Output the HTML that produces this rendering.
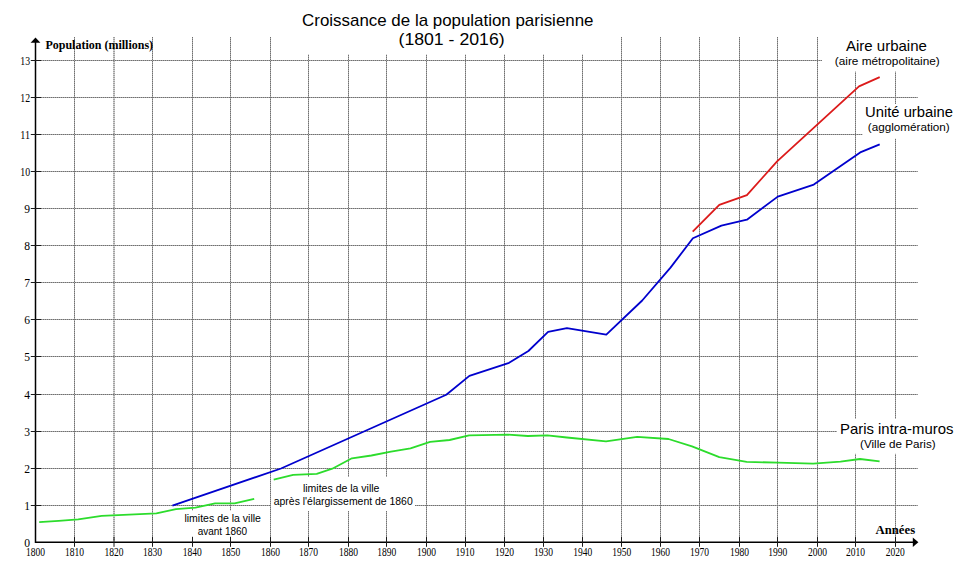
<!DOCTYPE html>
<html lang="fr"><head><meta charset="utf-8"><title>Croissance de la population parisienne</title>
<style>html,body{margin:0;padding:0;background:#fff;width:960px;height:573px;overflow:hidden}svg{display:block}.t{font-family:"Liberation Sans",Arial,sans-serif;fill:#000}.s{font-family:"Liberation Serif","Times New Roman",serif;fill:#000}</style></head><body>
<svg width="960" height="573" viewBox="0 0 960 573">
<rect width="960" height="573" fill="#fff"/>
<path d="M74.5 37V541 M114.0 37V541 M152.5 37V541 M192.5 37V541 M230.5 37V541 M270.5 37V541 M308.5 37V541 M348.5 37V541 M386.5 37V541 M426.5 37V541 M465.5 37V541 M504.5 37V541 M543.5 37V541 M582.5 37V541 M621.5 37V541 M660.5 37V541 M699.5 37V541 M739.5 37V541 M777.5 37V541 M817.5 37V541 M855.5 37V541 M895.5 37V541 M37 505.5H917.6 M37 468.5H917.6 M37 431.5H917.6 M37 394.5H917.6 M37 356.5H917.6 M37 319.5H917.6 M37 282.5H917.6 M37 245.5H917.6 M37 208.5H917.6 M37 171.5H917.6 M37 134.5H917.6 M37 97.5H917.6 M37 60.5H917.6" stroke="#a8a8a8" stroke-width="1" fill="none"/>
<path d="M74.5 37V541 M114.0 37V541 M152.5 37V541 M192.5 37V541 M230.5 37V541 M270.5 37V541 M308.5 37V541 M348.5 37V541 M386.5 37V541 M426.5 37V541 M465.5 37V541 M504.5 37V541 M543.5 37V541 M582.5 37V541 M621.5 37V541 M660.5 37V541 M699.5 37V541 M739.5 37V541 M777.5 37V541 M817.5 37V541 M855.5 37V541 M895.5 37V541 M37 505.5H917.6 M37 468.5H917.6 M37 431.5H917.6 M37 394.5H917.6 M37 356.5H917.6 M37 319.5H917.6 M37 282.5H917.6 M37 245.5H917.6 M37 208.5H917.6 M37 171.5H917.6 M37 134.5H917.6 M37 97.5H917.6 M37 60.5H917.6" stroke="#707070" stroke-width="1" stroke-dasharray="1 1" fill="none"/>
<rect x="285" y="0" width="322" height="54.5" fill="#fff"/>
<rect x="822" y="30" width="140" height="41.6" fill="#fff"/>
<rect x="862.5" y="104" width="97" height="34.7" fill="#fff"/>
<rect x="837" y="418.8" width="123" height="35" fill="#fff"/>
<rect x="180" y="510.5" width="90" height="30" fill="#fff"/>
<rect x="271" y="477" width="144" height="34" fill="#fff"/>
<text class="t" x="447.8" y="25.7" font-size="17" text-anchor="middle" textLength="291.4" lengthAdjust="spacingAndGlyphs">Croissance de la population parisienne</text>
<text class="t" x="451.55" y="45" font-size="17" text-anchor="middle" textLength="106.1" lengthAdjust="spacingAndGlyphs">(1801 - 2016)</text>
<path d="M35.5 41V542.2H914" stroke="#000" stroke-width="1.5" fill="none"/>
<path d="M30.6 42.8L35.5 37.6L40.4 42.8Z" fill="#000"/>
<path d="M912.8 537.6L918.4 542.3L912.8 547Z" fill="#000"/>
<path d="M30.8 505.5H41 M30.8 468.5H41 M30.8 431.5H41 M30.8 394.5H41 M30.8 356.5H41 M30.8 319.5H41 M30.8 282.5H41 M30.8 245.5H41 M30.8 208.5H41 M30.8 171.5H41 M30.8 134.5H41 M30.8 97.5H41 M30.8 60.5H41 M74.5 536.8V546.8 M114.0 536.8V546.8 M152.5 536.8V546.8 M192.5 536.8V546.8 M230.5 536.8V546.8 M270.5 536.8V546.8 M308.5 536.8V546.8 M348.5 536.8V546.8 M386.5 536.8V546.8 M426.5 536.8V546.8 M465.5 536.8V546.8 M504.5 536.8V546.8 M543.5 536.8V546.8 M582.5 536.8V546.8 M621.5 536.8V546.8 M660.5 536.8V546.8 M699.5 536.8V546.8 M739.5 536.8V546.8 M777.5 536.8V546.8 M817.5 536.8V546.8 M855.5 536.8V546.8 M895.5 536.8V546.8" stroke="#1a1a1a" stroke-width="1" fill="none"/>
<polyline points="39.2,522.1 58.7,520.9 78.2,519.3 101.7,515.9 156.4,513.3 176.0,509.1 195.5,507.7 215.1,503.3 234.6,503.4 254.2,498.9" stroke="#2cdc2c" stroke-width="1.8" fill="none" stroke-linejoin="round"/>
<polyline points="273.7,479.6 293.2,474.8 316.7,473.8 332.3,468.7 351.9,458.3 371.4,455.5 391.0,451.7 410.5,448.4 430.1,441.8 449.6,440.0 469.1,435.4 508.2,434.7 527.8,436.0 547.3,435.3 566.9,437.5 606.0,441.4 637.2,436.8 668.5,439.0 692.0,446.4 719.3,457.2 746.7,461.8 778.0,462.7 813.1,463.7 840.5,461.6 860.0,459.0 879.6,461.3" stroke="#2cdc2c" stroke-width="1.8" fill="none" stroke-linejoin="round"/>
<polyline points="172.4,505.6 281.0,468.5 446.3,394.7 469.4,375.9 509.1,362.8 528.4,351.0 548.1,331.9 566.9,328.1 606.3,334.6 642.2,300.5 670.5,267.6 692.9,238.3 721.4,225.6 746.9,219.7 777.8,196.6 813.8,184.6 860.2,152.4 879.7,144.3" stroke="#0000cd" stroke-width="1.8" fill="none" stroke-linejoin="round"/>
<polyline points="692.7,231.6 719.3,204.9 746.9,195.1 777.1,161.4 859.0,86.4 879.7,77.1" stroke="#dc1a1a" stroke-width="1.8" fill="none" stroke-linejoin="round"/>
<text class="s" x="30.1" y="509.75" font-size="11.6" text-anchor="end">1</text>
<text class="s" x="30.1" y="472.75" font-size="11.6" text-anchor="end">2</text>
<text class="s" x="30.1" y="435.75" font-size="11.6" text-anchor="end">3</text>
<text class="s" x="30.1" y="398.75" font-size="11.6" text-anchor="end">4</text>
<text class="s" x="30.1" y="360.75" font-size="11.6" text-anchor="end">5</text>
<text class="s" x="30.1" y="323.75" font-size="11.6" text-anchor="end">6</text>
<text class="s" x="30.1" y="286.75" font-size="11.6" text-anchor="end">7</text>
<text class="s" x="30.1" y="249.75" font-size="11.6" text-anchor="end">8</text>
<text class="s" x="30.1" y="212.75" font-size="11.6" text-anchor="end">9</text>
<text class="s" x="30.1" y="175.75" font-size="11.6" text-anchor="end" textLength="9.8" lengthAdjust="spacingAndGlyphs">10</text>
<text class="s" x="30.1" y="138.75" font-size="11.6" text-anchor="end" textLength="9.8" lengthAdjust="spacingAndGlyphs">11</text>
<text class="s" x="30.1" y="101.75" font-size="11.6" text-anchor="end" textLength="9.8" lengthAdjust="spacingAndGlyphs">12</text>
<text class="s" x="30.1" y="64.75" font-size="11.6" text-anchor="end" textLength="9.8" lengthAdjust="spacingAndGlyphs">13</text>
<text class="s" x="30.1" y="546.6" font-size="11.6" text-anchor="end">0</text>
<text class="s" x="35.6" y="555.9" font-size="11.6" text-anchor="middle" textLength="19" lengthAdjust="spacingAndGlyphs">1800</text>
<text class="s" x="74.4" y="555.9" font-size="11.6" text-anchor="middle" textLength="19" lengthAdjust="spacingAndGlyphs">1810</text>
<text class="s" x="114.0" y="555.9" font-size="11.6" text-anchor="middle" textLength="19" lengthAdjust="spacingAndGlyphs">1820</text>
<text class="s" x="152.5" y="555.9" font-size="11.6" text-anchor="middle" textLength="19" lengthAdjust="spacingAndGlyphs">1830</text>
<text class="s" x="192.2" y="555.9" font-size="11.6" text-anchor="middle" textLength="19" lengthAdjust="spacingAndGlyphs">1840</text>
<text class="s" x="230.7" y="555.9" font-size="11.6" text-anchor="middle" textLength="19" lengthAdjust="spacingAndGlyphs">1850</text>
<text class="s" x="270.4" y="555.9" font-size="11.6" text-anchor="middle" textLength="19" lengthAdjust="spacingAndGlyphs">1860</text>
<text class="s" x="308.6" y="555.9" font-size="11.6" text-anchor="middle" textLength="19" lengthAdjust="spacingAndGlyphs">1870</text>
<text class="s" x="348.4" y="555.9" font-size="11.6" text-anchor="middle" textLength="19" lengthAdjust="spacingAndGlyphs">1880</text>
<text class="s" x="386.8" y="555.9" font-size="11.6" text-anchor="middle" textLength="19" lengthAdjust="spacingAndGlyphs">1890</text>
<text class="s" x="426.5" y="555.9" font-size="11.6" text-anchor="middle" textLength="19" lengthAdjust="spacingAndGlyphs">1900</text>
<text class="s" x="465.0" y="555.9" font-size="11.6" text-anchor="middle" textLength="19" lengthAdjust="spacingAndGlyphs">1910</text>
<text class="s" x="504.6" y="555.9" font-size="11.6" text-anchor="middle" textLength="19" lengthAdjust="spacingAndGlyphs">1920</text>
<text class="s" x="543.4" y="555.9" font-size="11.6" text-anchor="middle" textLength="19" lengthAdjust="spacingAndGlyphs">1930</text>
<text class="s" x="582.8" y="555.9" font-size="11.6" text-anchor="middle" textLength="19" lengthAdjust="spacingAndGlyphs">1940</text>
<text class="s" x="621.7" y="555.9" font-size="11.6" text-anchor="middle" textLength="19" lengthAdjust="spacingAndGlyphs">1950</text>
<text class="s" x="660.6" y="555.9" font-size="11.6" text-anchor="middle" textLength="19" lengthAdjust="spacingAndGlyphs">1960</text>
<text class="s" x="699.5" y="555.9" font-size="11.6" text-anchor="middle" textLength="19" lengthAdjust="spacingAndGlyphs">1970</text>
<text class="s" x="739.5" y="555.9" font-size="11.6" text-anchor="middle" textLength="19" lengthAdjust="spacingAndGlyphs">1980</text>
<text class="s" x="777.7" y="555.9" font-size="11.6" text-anchor="middle" textLength="19" lengthAdjust="spacingAndGlyphs">1990</text>
<text class="s" x="817.4" y="555.9" font-size="11.6" text-anchor="middle" textLength="19" lengthAdjust="spacingAndGlyphs">2000</text>
<text class="s" x="855.6" y="555.9" font-size="11.6" text-anchor="middle" textLength="19" lengthAdjust="spacingAndGlyphs">2010</text>
<text class="s" x="895.2" y="555.9" font-size="11.6" text-anchor="middle" textLength="19" lengthAdjust="spacingAndGlyphs">2020</text>
<text class="s" x="45.4" y="49" font-size="12" font-weight="bold">Population (millions)</text>
<text class="s" x="875.5" y="533.9" font-size="12" font-weight="bold" textLength="39.6" lengthAdjust="spacingAndGlyphs">Années</text>
<text class="t" x="886.4" y="50.5" font-size="15" text-anchor="middle" textLength="81" lengthAdjust="spacingAndGlyphs">Aire urbaine</text>
<text class="t" x="887.3" y="65" font-size="11.75" text-anchor="middle" textLength="105" lengthAdjust="spacingAndGlyphs">(aire métropolitaine)</text>
<text class="t" x="909" y="117.3" font-size="14.7" text-anchor="middle" textLength="88" lengthAdjust="spacingAndGlyphs">Unité urbaine</text>
<text class="t" x="908.75" y="130.6" font-size="11.6" text-anchor="middle" textLength="82" lengthAdjust="spacingAndGlyphs">(agglomération)</text>
<text class="t" x="896.7" y="434.1" font-size="14.8" text-anchor="middle" textLength="113.5" lengthAdjust="spacingAndGlyphs">Paris intra-muros</text>
<text class="t" x="897.85" y="448.3" font-size="11.5" text-anchor="middle" textLength="75.5" lengthAdjust="spacingAndGlyphs">(Ville de Paris)</text>
<text class="t" x="222.7" y="522.3" font-size="10.5" text-anchor="middle" textLength="76.5" lengthAdjust="spacingAndGlyphs">limites de la ville</text>
<text class="t" x="222.45" y="534.9" font-size="10" text-anchor="middle" textLength="49.5" lengthAdjust="spacingAndGlyphs">avant 1860</text>
<text class="t" x="341.2" y="492.1" font-size="10.5" text-anchor="middle" textLength="76.5" lengthAdjust="spacingAndGlyphs">limites de la ville</text>
<text class="t" x="343.25" y="504.9" font-size="10.4" text-anchor="middle" textLength="139" lengthAdjust="spacingAndGlyphs">après l'élargissement de 1860</text>
</svg></body></html>
